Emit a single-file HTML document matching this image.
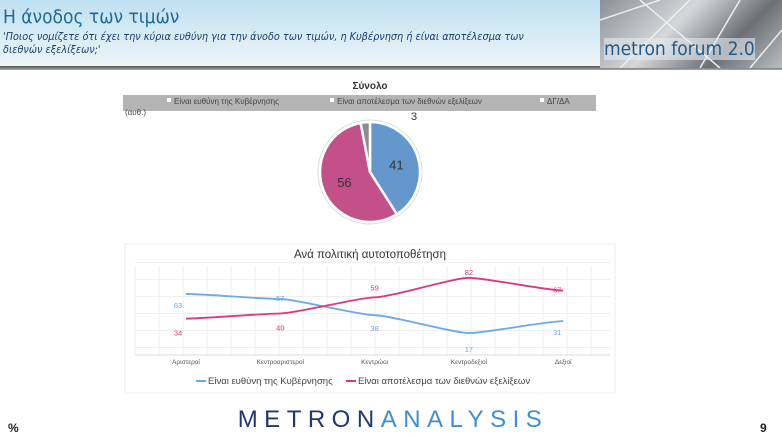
<!DOCTYPE html>
<html><head><meta charset="utf-8">
<style>
body{margin:0;width:782px;height:438px;overflow:hidden;background:#fff;font-family:"Liberation Sans","DejaVu Sans",sans-serif;position:relative}
.hdr{position:absolute;left:0;top:0;width:782px;height:66px;background:linear-gradient(180deg,#bfe0f0 0%,#d8ecf5 55%,#eef5f8 100%)}
.rule{position:absolute;left:0;top:66px;width:782px;height:4px;background:linear-gradient(180deg,#555,#aaa)}
</style></head><body>
<div class="hdr"></div>
<div class="rule"></div>
<div style="position:absolute;left:3px;top:6px;font-size:19px;color:#1d6a9a;font-family:'DejaVu Sans Condensed','DejaVu Sans',sans-serif">Η άνοδος των τιμών</div>
<div style="position:absolute;left:3px;top:30px;width:600px;font-size:10.8px;line-height:13px;color:#1c3f6e;font-style:italic;font-family:'DejaVu Sans Condensed','DejaVu Sans',sans-serif">'Ποιος νομίζετε ότι έχει την κύρια ευθύνη για την άνοδο των τιμών, η Κυβέρνηση ή είναι αποτέλεσμα των<br>διεθνών εξελίξεων;'</div>
<div style="position:absolute;left:600px;top:0;width:182px;height:68px;background:linear-gradient(135deg,#8a9098,#d5d8da 40%,#6b7077 70%,#b9bec2);overflow:hidden">
<svg width="182" height="68"><path d="M0 20 L60 0 M20 68 L90 0 M100 68 L140 0 M150 68 L182 30 M40 0 L120 68" stroke="#eee" stroke-width="1.5"/></svg>
<div style="position:absolute;left:4px;top:38px;white-space:nowrap;font-size:19px;color:#1e5b8c;font-family:'DejaVu Sans Condensed',sans-serif;background:rgba(230,235,240,.6)">metron forum 2.0</div></div>

<svg width="782" height="438" style="position:absolute;left:0;top:0" id="s">
<text x="370" y="89" font-size="10" font-weight="bold" text-anchor="middle" fill="#333">Σύνολο</text>
<rect x="123" y="95" width="473" height="16" fill="#b4b4b4"/>
<g font-size="8" fill="#444">
<rect x="167" y="98" width="4" height="4" fill="#fff"/><text x="174" y="104">Είναι ευθύνη της Κυβέρνησης</text>
<rect x="330" y="98" width="4" height="4" fill="#fff"/><text x="337" y="104">Είναι αποτέλεσμα των διεθνών εξελίξεων</text>
<rect x="540" y="98" width="4" height="4" fill="#fff"/><text x="547" y="104">ΔΓ/ΔΑ</text>
<text x="125" y="115">(αυθ.)</text></g>
<g id="pie"></g>
<rect x="125" y="244" width="490" height="149" fill="#fff" stroke="#eee"/>
<text x="370" y="258" font-size="11.5" text-anchor="middle" fill="#333">Ανά πολιτική αυτοτοποθέτηση</text>
<g id="grid"></g><g id="lines"></g>
<g font-size="9.5" fill="#444">
<line x1="196" y1="381" x2="206" y2="381" stroke="#6aaae8" stroke-width="2"/>
<text x="208" y="384">Είναι ευθύνη της Κυβέρνησης</text>
<line x1="346" y1="381" x2="356" y2="381" stroke="#e0357f" stroke-width="2"/>
<text x="358" y="384">Είναι αποτέλεσμα των διεθνών εξελίξεων</text></g>
<text x="393" y="427" font-size="24" letter-spacing="6.5" text-anchor="middle" fill="#1f3a6e">METRON<tspan fill="#3f8fcf">ANALYSIS</tspan></text>
<text x="8" y="432" font-size="12" font-weight="bold" fill="#222">%</text>
<text x="760" y="432" font-size="12" font-weight="bold" fill="#222">9</text>
</svg>
<script>
const pieLabels=["Είναι ευθύνη της Κυβέρνησης","Είναι αποτέλεσμα των διεθνών εξελίξεων","ΔΓ/ΔΑ"];
const pieValues=[41,56,3];
const pieColors=["#6497cc","#c4508a","#8c8c8c"];
const categories=["Αριστεροί","Κεντροαριστεροί","Κεντρώοι","Κεντροδεξιοί","Δεξιοί"];
const govValues=[63,57,38,17,31];
const intlValues=[34,40,59,82,67];
const NS="http://www.w3.org/2000/svg";
function mk(t,a,p){const e=document.createElementNS(NS,t);for(const k in a)e.setAttribute(k,a[k]);p.appendChild(e);return e;}
const cx=370,cy=172,r=50,pg=document.getElementById('pie');
mk('circle',{cx,cy,r:r+2,fill:'#fff',stroke:'#ddd'},pg);
let tot=pieValues.reduce((a,b)=>a+b,0),a0=0;
pieValues.forEach((v,i)=>{const a1=a0+v/tot*2*Math.PI;
const p=(a)=>[cx+r*Math.sin(a),cy-r*Math.cos(a)];
const [x0,y0]=p(a0),[x1,y1]=p(a1);
const el=mk('path',{d:`M${cx},${cy}L${x0},${y0}A${r},${r} 0 ${a1-a0>Math.PI?1:0} 1 ${x1},${y1}Z`,fill:pieColors[i],stroke:'#fff','stroke-width':2.5},pg);


const m=(a0+a1)/2;
let tx,ty;
if(i==2){tx=cx+44;ty=cy-r-2;}else{tx=cx+r*0.55*Math.sin(m);ty=cy-r*0.55*Math.cos(m)+5;}
const t=mk('text',{x:tx,y:ty,'font-size':i==2?11:13,'text-anchor':'middle',fill:'#333'},pg);
t.textContent=v;


a0=a1;});
const xs=i=>186+i*94.3, ys=v=>347.5-v*0.85;
const gg=document.getElementById('grid');
for(let x=135;x<=610;x+=24)mk('line',{x1:x,y1:266,x2:x,y2:355,stroke:'#efefef'},gg);
for(let v=0;v<=100;v+=20)mk('line',{x1:135,y1:ys(v),x2:610,y2:ys(v),stroke:'#efefef'},gg);
mk('line',{x1:135,y1:355,x2:610,y2:355,stroke:'#ddd'},gg);
categories.forEach((c,i)=>{const t=mk('text',{x:xs(i),y:364,'font-size':6.5,'text-anchor':'middle',fill:'#555'},gg);t.textContent=c;

});
const lg=document.getElementById('lines');
function series(vals,col,name,off){
const pts=vals.map((v,i)=>[xs(i),ys(v)]);
let d='M'+pts[0];for(let i=1;i<pts.length;i++){const [xa,ya]=pts[i-1],[xb,yb]=pts[i];const dx=(xb-xa)/6;d+=`C${xa+dx},${ya} ${xb-dx},${yb} ${xb},${yb}`;}
const p=mk('path',{d,fill:'none',stroke:col,'stroke-width':1.8},lg);


vals.forEach((v,i)=>{const t=mk('text',{x:pts[i][0]-(i==0?8:i==4?6:0),y:pts[i][1]+off[i],'font-size':7.5,'text-anchor':'middle',fill:col},lg);t.textContent=v;

});}
series(govValues,'#6aaae8','line-gov',[14,2,16,19,14]);
series(intlValues,'#e0357f','line-intl',[17,17,-7,-3,2]);
</script>
</body></html>
